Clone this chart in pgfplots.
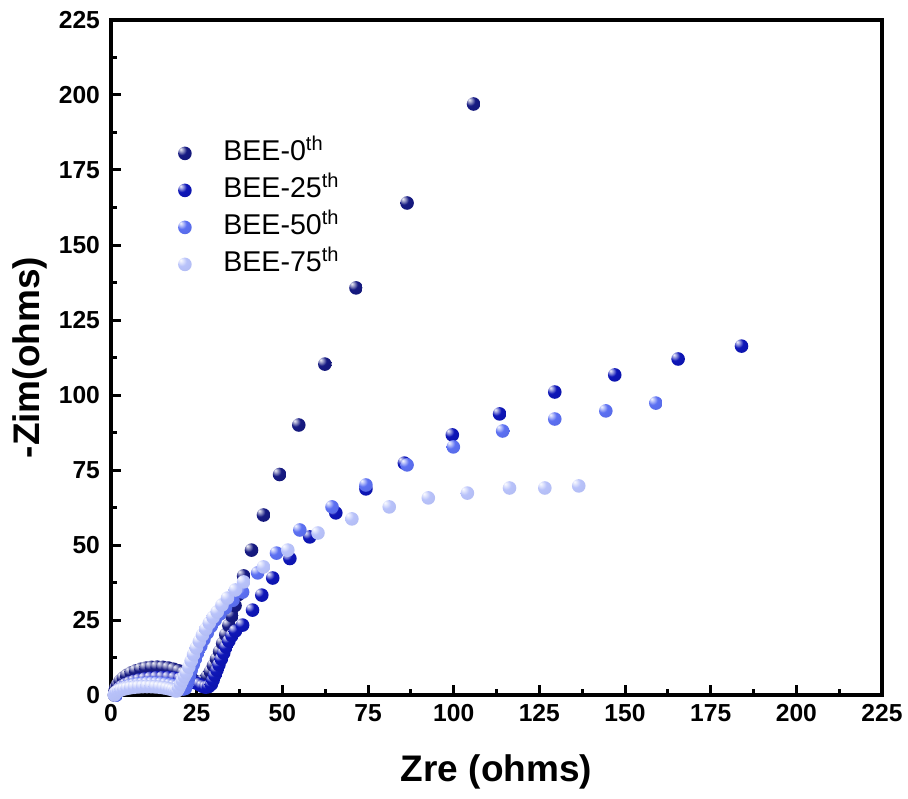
\documentclass[border=0pt]{standalone}
\usepackage{fontspec}
\setmainfont{Liberation Sans}
\usepackage{pgfplots}
\pgfplotsset{compat=1.18}
\definecolor{c0}{RGB}{22,26,130}
\definecolor{c25}{RGB}{14,22,184}
\definecolor{c50}{RGB}{92,112,242}
\definecolor{c75}{RGB}{184,194,250}
\pgfdeclareradialshading{shball0}{\pgfqpoint{-16bp}{16bp}}{color(0bp)=(c0!5!white); color(7bp)=(c0!40!white); color(18bp)=(c0); color(45bp)=(c0!90!black); color(70bp)=(c0!80!black)}
\pgfdeclareradialshading{shball25}{\pgfqpoint{-16bp}{16bp}}{color(0bp)=(c25!5!white); color(7bp)=(c25!40!white); color(18bp)=(c25); color(45bp)=(c25!90!black); color(70bp)=(c25!80!black)}
\pgfdeclareradialshading{shball50}{\pgfqpoint{-16bp}{16bp}}{color(0bp)=(c50!5!white); color(7bp)=(c50!40!white); color(18bp)=(c50); color(45bp)=(c50!93!black); color(70bp)=(c50!85!black)}
\pgfdeclareradialshading{shball75}{\pgfqpoint{-16bp}{16bp}}{color(0bp)=(c75!5!white); color(7bp)=(c75!40!white); color(18bp)=(c75); color(45bp)=(c75!96!black); color(70bp)=(c75!90!black)}
\pgfdeclareplotmark{ball0}{\pgfpathcircle{\pgfpointorigin}{\pgfplotmarksize}\pgfshadepath{shball0}{0}\pgfusepath{}}
\pgfdeclareplotmark{ball25}{\pgfpathcircle{\pgfpointorigin}{\pgfplotmarksize}\pgfshadepath{shball25}{0}\pgfusepath{}}
\pgfdeclareplotmark{ball50}{\pgfpathcircle{\pgfpointorigin}{\pgfplotmarksize}\pgfshadepath{shball50}{0}\pgfusepath{}}
\pgfdeclareplotmark{ball75}{\pgfpathcircle{\pgfpointorigin}{\pgfplotmarksize}\pgfshadepath{shball75}{0}\pgfusepath{}}
\begin{document}
\begin{tikzpicture}
\begin{axis}[
  name=ax,
  scale only axis, width=385.5pt, height=337.5pt,
  xmin=0, xmax=225, ymin=0, ymax=225,
  xtick={0,25,...,225}, ytick={0,25,...,225},
  minor tick num=1,
  tick align=inside, xtick pos=bottom, ytick pos=left,
  major tick length=5pt, minor tick length=3pt,
  tick style={line width=1.5pt, black},
  axis line style={line width=1.75pt},
  axis on top,
  clip=false,
  /pgf/number format/assume math mode=true,
  ticklabel style={font=\bfseries\fontsize{12.3}{14}\selectfont},
  yticklabel style={xshift=-2pt},
  xticklabel style={yshift=-1pt},
  xlabel={Zre (ohms)}, ylabel={-Zim(ohms)},
  label style={font=\bfseries\fontsize{18.5}{22}\selectfont},
  xlabel style={at={(axis description cs:0.5,-0.114)}, anchor=center},
  ylabel style={at={(axis description cs:-0.105,0.5)}, anchor=center},
  legend style={at={(axis cs:19.0,186.5)}, anchor=north west, draw=none, fill=none,
    font=\fontsize{14.3}{16}\selectfont, row sep=1pt, inner sep=0pt,
    nodes={text height=10.5pt, text depth=3pt}},
  legend cell align=left,
  legend image code/.code={\draw[mark repeat=2,mark phase=2,#1] plot coordinates {(0pt,0pt)(4pt,0pt)(8pt,0pt)}; \path (0pt,0pt) (21pt,0pt);},
  every axis plot/.append style={only marks, mark size=3.4pt},
]
\addplot[mark=ball0] table {
1.00 0
1.11 1.22
1.43 2.41
1.95 3.56
2.67 4.65
3.58 5.66
4.66 6.58
5.89 7.37
7.25 8.05
8.72 8.59
10.26 8.98
11.87 9.22
13.50 9.30
15.13 9.22
16.74 8.98
18.28 8.59
19.75 8.05
21.11 7.37
22.34 6.58
23.42 5.66
24.33 4.65
25.30 4.20
26.30 4.30
27.20 5.00
28.10 6.20
29.00 7.80
29.90 9.80
30.80 12.0
31.70 14.5
32.60 17.2
33.50 20.1
34.40 23.2
35.30 26.4
36.20 29.8
37.20 33.5
38.70 39.7
41.0 48.3
44.5 60.0
49.2 73.5
54.8 90.0
62.4 110.3
71.5 135.7
86.4 164.0
105.8 197.0
};
\addlegendentry{BEE-0\textsuperscript{th}}
\addplot[mark=ball25] table {
1.50 0
1.62 0.76
1.96 1.50
2.53 2.22
3.31 2.90
4.29 3.53
5.45 4.10
6.78 4.60
8.25 5.02
9.83 5.36
11.51 5.60
13.24 5.75
15.00 5.80
16.76 5.75
18.49 5.60
20.17 5.36
21.75 5.02
23.22 4.60
24.55 4.10
25.71 3.53
26.69 2.90
27.60 2.60
28.50 2.80
29.30 3.60
29.80 5.00
30.30 6.60
30.90 8.30
31.50 10.1
32.20 12.0
32.90 14.0
33.60 16.0
34.40 18.0
35.30 19.8
36.30 21.3
38.4 23.3
41.3 28.3
44.0 33.3
47.2 39.0
52.2 45.5
58.0 52.7
65.6 60.7
74.4 68.7
85.6 77.3
99.6 86.7
113.4 93.7
129.5 101.0
147.0 106.7
165.5 112.0
184.0 116.3
};
\addlegendentry{BEE-25\textsuperscript{th}}
\addplot[mark=ball50] table {
1.50 0
1.59 0.52
1.86 1.04
2.30 1.53
2.91 2.00
3.67 2.44
4.58 2.83
5.61 3.17
6.75 3.46
7.98 3.70
9.28 3.86
10.63 3.96
12.00 4.00
13.37 3.96
14.72 3.86
16.02 3.70
17.25 3.46
18.39 3.17
19.42 2.83
20.33 2.44
21.09 2.00
21.70 2.20
22.10 3.40
22.50 4.90
22.90 6.50
23.40 8.30
24.00 10.2
24.70 12.2
25.40 14.2
26.20 16.3
27.10 18.5
28.10 20.7
29.20 22.9
30.40 25.0
31.80 27.0
33.40 29.0
35.60 31.6
38.4 34.3
42.8 40.7
48.3 47.3
55.1 55.0
64.5 62.7
74.4 70.0
86.4 76.7
99.9 82.7
114.3 88.0
129.5 92.0
144.4 94.7
159.0 97.3
};
\addlegendentry{BEE-50\textsuperscript{th}}
\addplot[mark=ball75] table {
1.00 0
1.08 0.37
1.32 0.73
1.72 1.07
2.27 1.40
2.96 1.71
3.78 1.98
4.72 2.22
5.75 2.42
6.86 2.59
8.04 2.70
9.26 2.78
10.50 2.80
11.74 2.78
12.96 2.70
14.14 2.59
15.25 2.42
16.28 2.22
17.22 1.98
18.04 1.71
18.73 1.40
19.30 1.40
19.80 2.40
20.30 3.60
20.80 4.90
21.40 6.20
22.00 7.40
22.70 9.30
23.40 11.4
24.10 13.5
24.90 15.7
25.80 17.9
26.70 20.0
27.70 22.0
28.70 24.0
29.80 25.9
31.00 27.7
32.40 30.0
34.00 32.3
36.30 35.0
38.7 37.7
44.5 42.7
51.6 48.3
60.4 54.0
70.3 58.7
81.2 62.7
92.6 65.7
104.0 67.3
116.3 69.0
126.6 69.0
136.5 69.7
};
\addlegendentry{BEE-75\textsuperscript{th}}
\end{axis}
\pgfresetboundingbox
\path[use as bounding box] ([shift={(-55.5pt,-51.5pt)}]ax.south west) rectangle ([shift={(13pt,10pt)}]ax.north east);
\end{tikzpicture}
\end{document}
